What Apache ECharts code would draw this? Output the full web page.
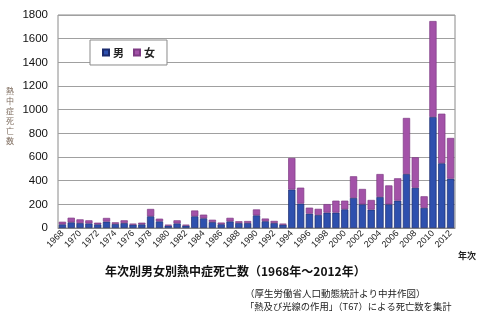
<!DOCTYPE html>
<html>
<head>
<meta charset="utf-8">
<script src="https://cdn.jsdelivr.net/npm/echarts@6/dist/echarts.min.js"></script>
<style>
html,body{margin:0;padding:0;background:#fff;}
#chart{width:480px;height:323px;}
</style>
</head>
<body>
<div id="chart"></div>
<script>
const years = ['1968','1969','1970','1971','1972','1973','1974','1975','1976','1977','1978','1979','1980','1981','1982','1983','1984','1985','1986','1987','1988','1989','1990','1991','1992','1993','1994','1995','1996','1997','1998','1999','2000','2001','2002','2003','2004','2005','2006','2007','2008','2009','2010','2011','2012'];
const male = [31,48,42,39,31,54,34,42,28,31,99,56,20,39,20,99,82,50,32,56,42,42,107,57,42,28,325,206,121,110,130,130,158,254,200,155,262,200,231,456,340,170,938,547,417];
const female = [22,39,31,26,14,31,14,23,9,14,62,23,8,26,8,49,31,20,14,30,15,17,50,23,18,9,267,135,51,52,72,101,73,183,130,82,194,160,189,474,258,98,811,419,344];
const yTicks = [0,200,400,600,800,1000,1200,1400,1600,1800];
const seriesNames = ['男','女'];
const titleText = '年次別男女別熱中症死亡数（1968年～2012年）';
const yAxisName = '熱中症死亡数';
const xAxisName = '年次';
const note1 = '（厚生労働省人口動態統計より中井作図）';
const note2 = '「熱及び光線の作用」（T67）による死亡数を集計';

const chart = echarts.init(document.getElementById('chart'));
const jp = '"Noto Sans CJK JP", sans-serif';
const num = '"Liberation Sans", Arial, sans-serif';
chart.setOption({
  animation: false,
  backgroundColor: '#fff',
  grid: {left: 58, right: 25, top: 15, bottom: 95, show: true, borderColor: '#8a8a8a', borderWidth: 1, containLabel: false},
  legend: {
    left: 90, top: 40, orient: 'horizontal',
    data: seriesNames,
    backgroundColor: '#fff', borderColor: '#8a8a8a', borderWidth: 1,
    padding: [7, 12], itemGap: 9, itemWidth: 6, itemHeight: 6,
    icon: 'rect',
    textStyle: {fontFamily: jp, fontSize: 11, fontWeight: 'bold', color: '#222', padding: [0,0,0,-1]}
  },
  xAxis: {
    type: 'category', data: years,
    axisLine: {show: true, lineStyle: {color: '#8a8a8a'}},
    axisTick: {show: false},
    axisLabel: {interval: 1, rotate: 45, fontSize: 9, fontFamily: num, color: '#222', margin: 4}
  },
  yAxis: {
    type: 'value', min: yTicks[0], max: yTicks[yTicks.length-1], interval: 200,
    axisLine: {show: false}, axisTick: {show: false},
    axisLabel: {fontSize: 11.5, fontFamily: num, color: '#111', margin: 10, formatter: function (v) { return String(v); }},
    splitLine: {lineStyle: {color: '#a0a0a0', width: 1}}
  },
  series: [
    {name: seriesNames[0], type: 'bar', stack: 'a', data: male, barCategoryGap: '18%',
     itemStyle: {color: '#2e50ae', borderColor: '#1b2b6e', borderWidth: 0.7}},
    {name: seriesNames[1], type: 'bar', stack: 'a', data: female,
     itemStyle: {color: '#a352a8', borderColor: '#7e3b84', borderWidth: 0.7}}
  ],
  graphic: [
    {type: 'text', left: 6, top: 86, style: {text: yAxisName.split('').join('\n'), fontFamily: jp, fontSize: 8, lineHeight: 10, fill: '#7d6b5d'}},
    {type: 'text', left: 458, top: 251, style: {text: xAxisName, fontFamily: jp, fontSize: 9, fontWeight: 'bold', fill: '#222'}},
    {type: 'text', left: 105, top: 265, style: {text: titleText, fontFamily: jp, fontSize: 12, fontWeight: 'bold', fill: '#111'}},
    {type: 'text', left: 245, top: 289, style: {text: note1, fontFamily: jp, fontSize: 9.5, fill: '#222'}},
    {type: 'text', left: 245, top: 301.5, style: {text: note2, fontFamily: jp, fontSize: 9.3, fill: '#222'}}
  ]
});
</script>
</body>
</html>
